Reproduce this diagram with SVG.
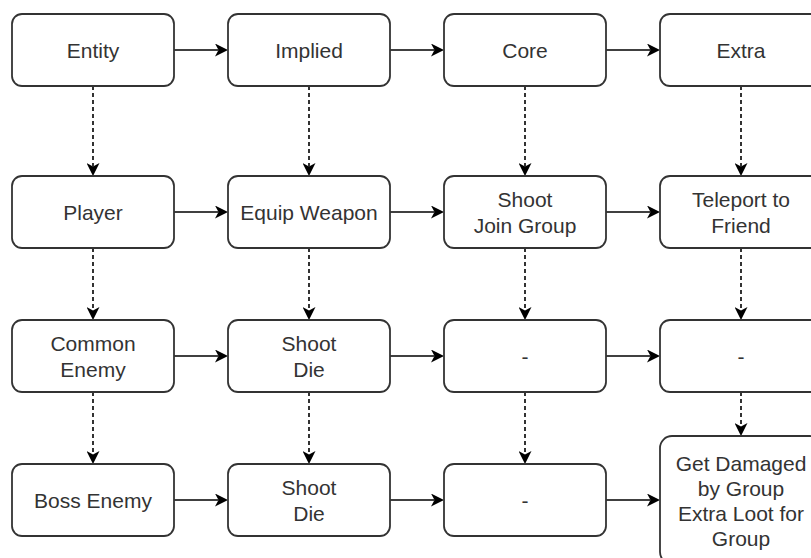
<svg xmlns="http://www.w3.org/2000/svg" width="811" height="558" viewBox="0 0 811 558">
<style>
.box{fill:#fff;stroke:#333;stroke-width:1.8}
.t{font-family:"Liberation Sans",Arial,Helvetica,sans-serif;font-size:21px;fill:#333;text-anchor:middle;dominant-baseline:central}
.e{fill:none;stroke:#000;stroke-width:1.6}
.d{stroke-dasharray:4 3}
</style>
<defs>
<marker id="arr" markerUnits="userSpaceOnUse" viewBox="0 0 13 13" markerWidth="13" markerHeight="13" refX="3.5" refY="6.5" orient="auto">
<path d="M13,6.5 L0,0 L3.5,6.5 L0,13 Z" fill="#000"/>
</marker>
</defs>
<rect width="811" height="558" fill="#fff"/>
<g id="connectors">
<line class="e" x1="174" y1="50" x2="218.5" y2="50" marker-end="url(#arr)"/>
<line class="e" x1="390" y1="50" x2="434.5" y2="50" marker-end="url(#arr)"/>
<line class="e" x1="606" y1="50" x2="650.5" y2="50" marker-end="url(#arr)"/>
<line class="e" x1="174" y1="212" x2="218.5" y2="212" marker-end="url(#arr)"/>
<line class="e" x1="390" y1="212" x2="434.5" y2="212" marker-end="url(#arr)"/>
<line class="e" x1="606" y1="212" x2="650.5" y2="212" marker-end="url(#arr)"/>
<line class="e" x1="174" y1="356" x2="218.5" y2="356" marker-end="url(#arr)"/>
<line class="e" x1="390" y1="356" x2="434.5" y2="356" marker-end="url(#arr)"/>
<line class="e" x1="606" y1="356" x2="650.5" y2="356" marker-end="url(#arr)"/>
<line class="e" x1="174" y1="500" x2="218.5" y2="500" marker-end="url(#arr)"/>
<line class="e" x1="390" y1="500" x2="434.5" y2="500" marker-end="url(#arr)"/>
<line class="e" x1="606" y1="500" x2="650.5" y2="500" marker-end="url(#arr)"/>
<line class="e d" x1="93" y1="86" x2="93" y2="166.5" marker-end="url(#arr)"/>
<line class="e d" x1="309" y1="86" x2="309" y2="166.5" marker-end="url(#arr)"/>
<line class="e d" x1="525" y1="86" x2="525" y2="166.5" marker-end="url(#arr)"/>
<line class="e d" x1="741" y1="86" x2="741" y2="166.5" marker-end="url(#arr)"/>
<line class="e d" x1="93" y1="248" x2="93" y2="310.5" marker-end="url(#arr)"/>
<line class="e d" x1="309" y1="248" x2="309" y2="310.5" marker-end="url(#arr)"/>
<line class="e d" x1="525" y1="248" x2="525" y2="310.5" marker-end="url(#arr)"/>
<line class="e d" x1="741" y1="248" x2="741" y2="310.5" marker-end="url(#arr)"/>
<line class="e d" x1="93" y1="392" x2="93" y2="454.5" marker-end="url(#arr)"/>
<line class="e d" x1="309" y1="392" x2="309" y2="454.5" marker-end="url(#arr)"/>
<line class="e d" x1="525" y1="392" x2="525" y2="454.5" marker-end="url(#arr)"/>
<line class="e d" x1="741" y1="392" x2="741" y2="426.5" marker-end="url(#arr)"/>
</g>
<g id="entity"><rect class="box" x="12" y="14" width="162" height="72" rx="10"/><text class="t" x="93" y="50">Entity</text></g>
<g id="implied"><rect class="box" x="228" y="14" width="162" height="72" rx="10"/><text class="t" x="309" y="50">Implied</text></g>
<g id="core"><rect class="box" x="444" y="14" width="162" height="72" rx="10"/><text class="t" x="525" y="50">Core</text></g>
<g id="extra"><rect class="box" x="660" y="14" width="162" height="72" rx="10"/><text class="t" x="741" y="50">Extra</text></g>
<g id="player"><rect class="box" x="12" y="176" width="162" height="72" rx="10"/><text class="t" x="93" y="212">Player</text></g>
<g id="equip"><rect class="box" x="228" y="176" width="162" height="72" rx="10"/><text class="t" x="309" y="212">Equip Weapon</text></g>
<g id="shootjoin"><rect class="box" x="444" y="176" width="162" height="72" rx="10"/><text class="t" x="525" y="199">Shoot</text><text class="t" x="525" y="225">Join Group</text></g>
<g id="teleport"><rect class="box" x="660" y="176" width="162" height="72" rx="10"/><text class="t" x="741" y="199">Teleport to</text><text class="t" x="741" y="225">Friend</text></g>
<g id="common"><rect class="box" x="12" y="320" width="162" height="72" rx="10"/><text class="t" x="93" y="343">Common</text><text class="t" x="93" y="369">Enemy</text></g>
<g id="shootdie1"><rect class="box" x="228" y="320" width="162" height="72" rx="10"/><text class="t" x="309" y="343">Shoot</text><text class="t" x="309" y="369">Die</text></g>
<g id="core3"><rect class="box" x="444" y="320" width="162" height="72" rx="10"/><text class="t" x="525" y="356">-</text></g>
<g id="extra3"><rect class="box" x="660" y="320" width="162" height="72" rx="10"/><text class="t" x="741" y="356">-</text></g>
<g id="boss"><rect class="box" x="12" y="464" width="162" height="72" rx="10"/><text class="t" x="93" y="500">Boss Enemy</text></g>
<g id="shootdie2"><rect class="box" x="228" y="464" width="162" height="72" rx="10"/><text class="t" x="309" y="487">Shoot</text><text class="t" x="309" y="513">Die</text></g>
<g id="core4"><rect class="box" x="444" y="464" width="162" height="72" rx="10"/><text class="t" x="525" y="500">-</text></g>
<g id="extra4"><rect class="box" x="660" y="436" width="162" height="128" rx="12"/><text class="t" x="741" y="463">Get Damaged</text><text class="t" x="741" y="488">by Group</text><text class="t" x="741" y="513">Extra Loot for</text><text class="t" x="741" y="538">Group</text></g>
</svg>
